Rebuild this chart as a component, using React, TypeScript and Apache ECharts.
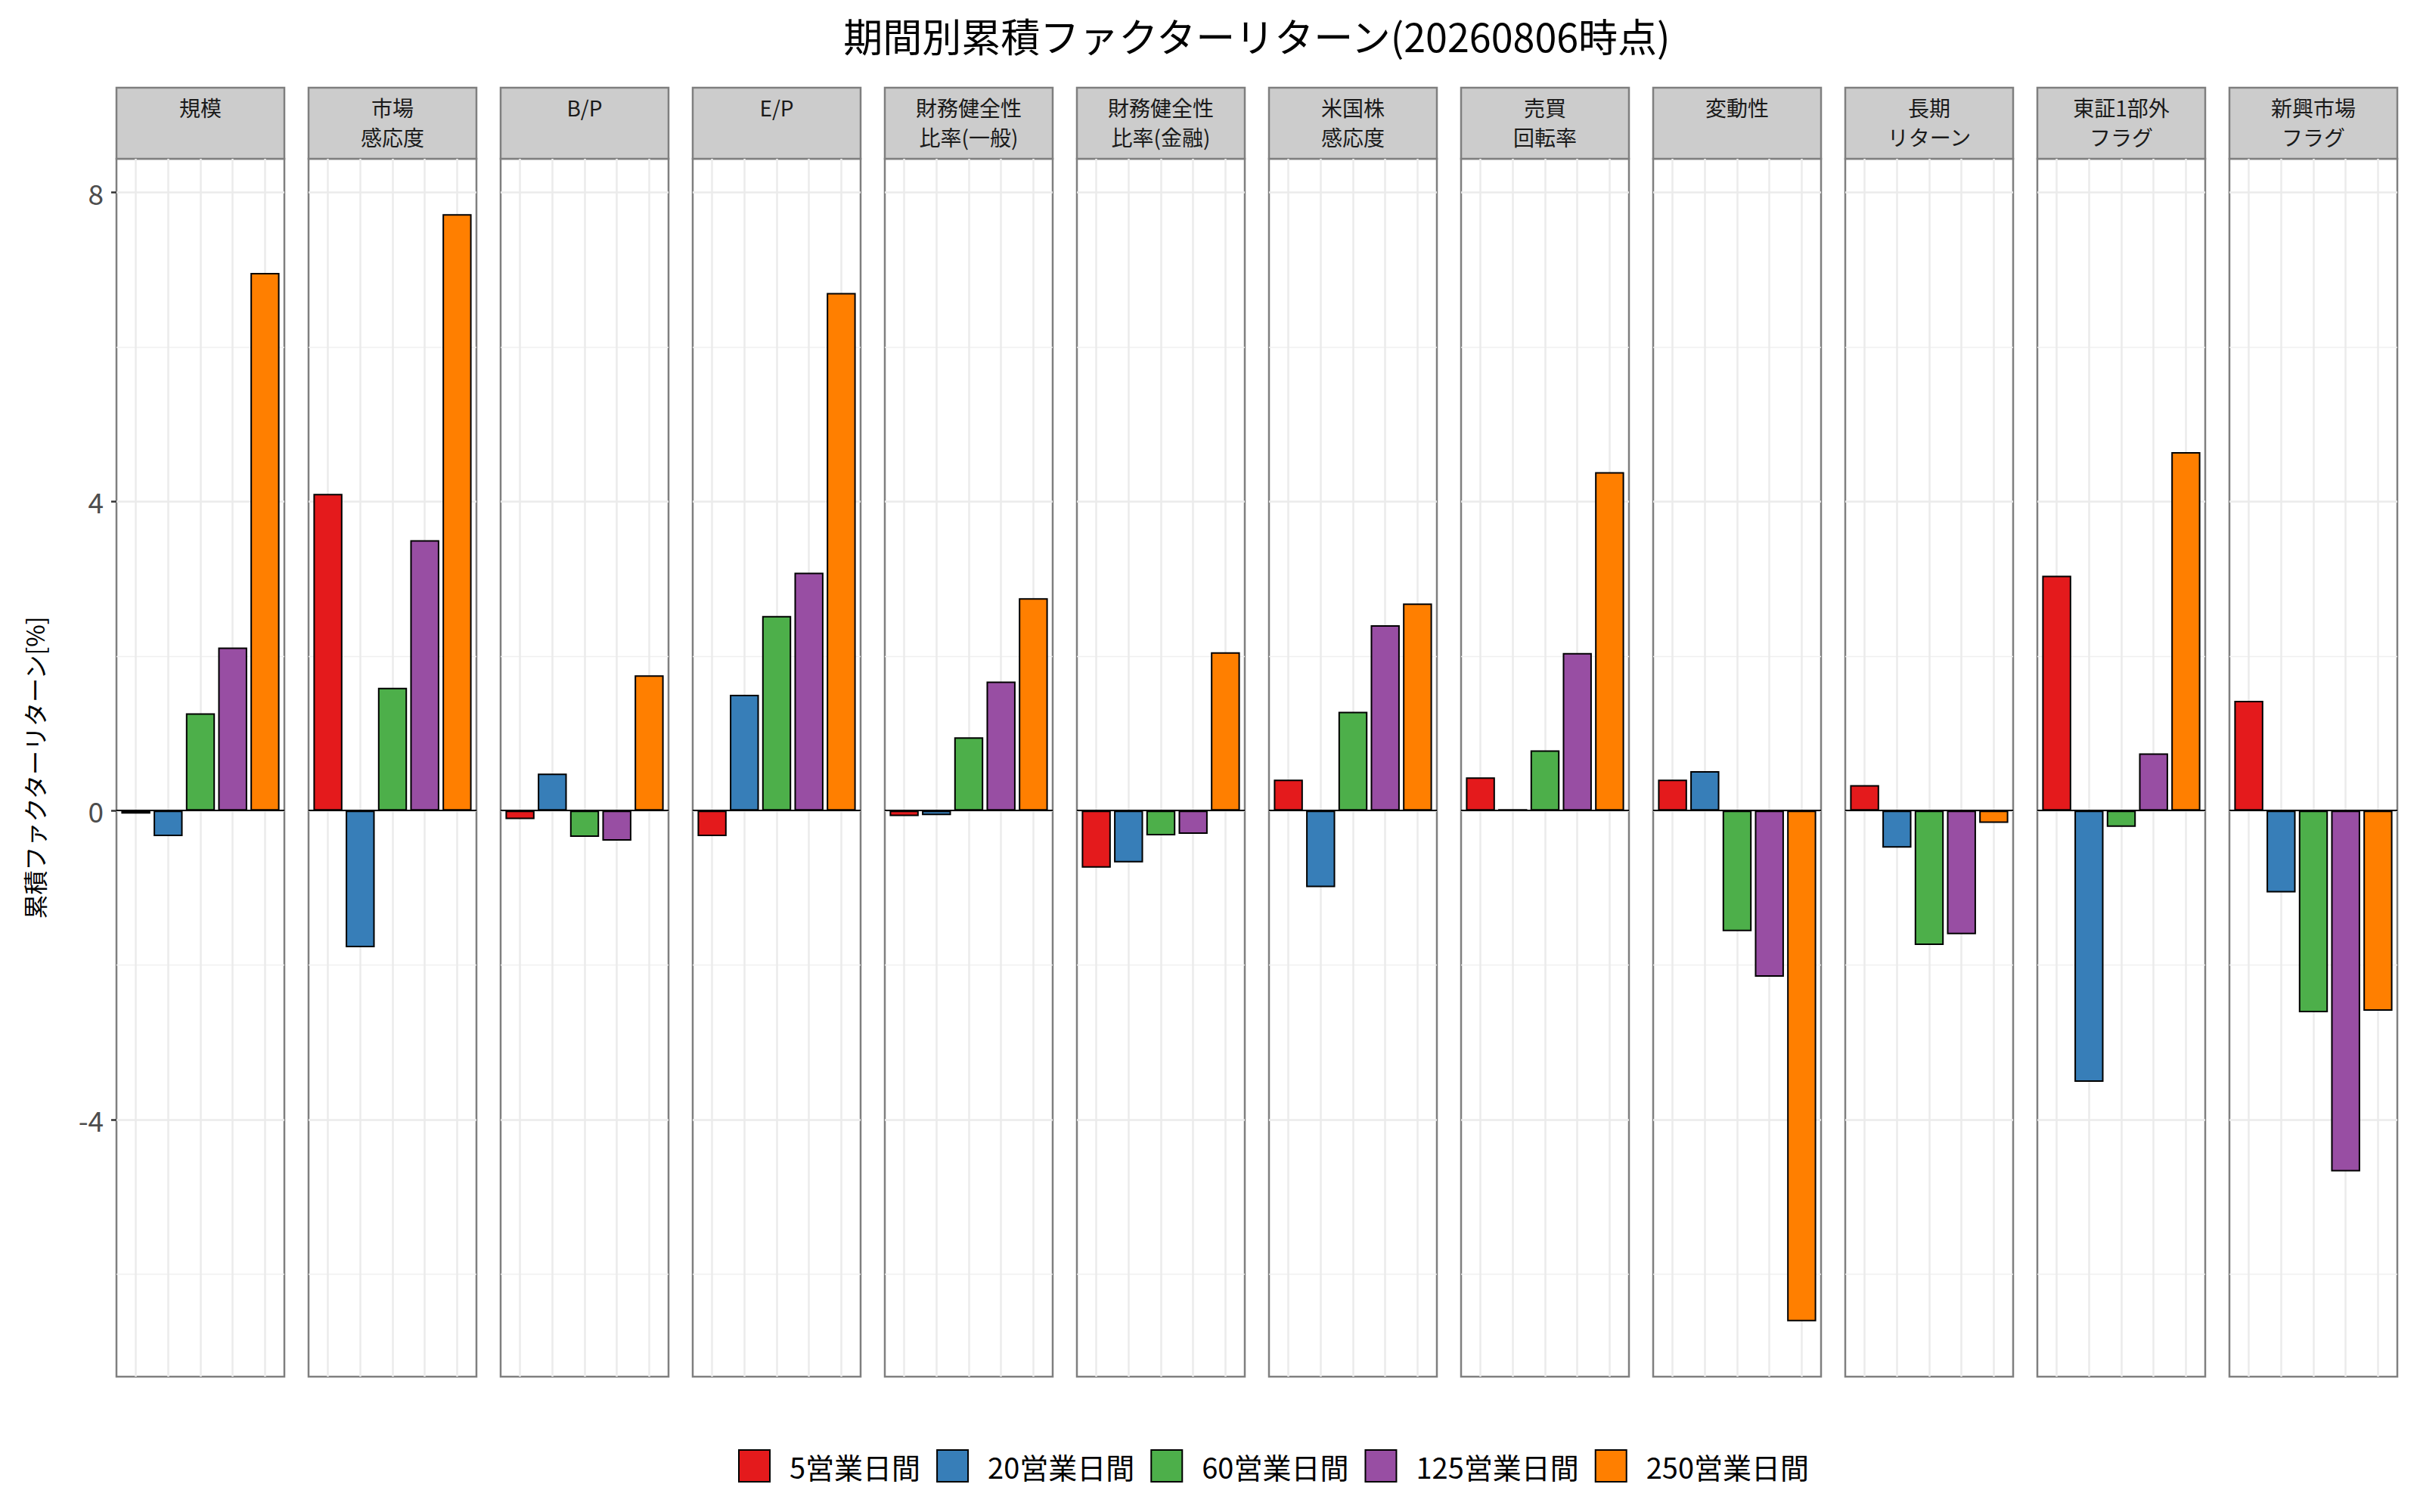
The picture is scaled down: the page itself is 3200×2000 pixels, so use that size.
import * as echarts from "echarts";
import { useEffect, useRef } from "react";

const title = "期間別累積ファクターリターン(20260806時点)";
const yName = "累積ファクターリターン[%]";

const factors = [
  "規模",
  "市場\n感応度",
  "B/P",
  "E/P",
  "財務健全性\n比率(一般)",
  "財務健全性\n比率(金融)",
  "米国株\n感応度",
  "売買\n回転率",
  "変動性",
  "長期\nリターン",
  "東証1部外\nフラグ",
  "新興市場\nフラグ",
];

const periods = ["5営業日間", "20営業日間", "60営業日間", "125営業日間", "250営業日間"];
const colors = ["#E41A1C", "#377EB8", "#4DAF4A", "#984EA3", "#FF7F00"];

// cumulative return per factor, one array per period
const ret5 = [-0.04, 4.1, -0.11, -0.33, -0.07, -0.74, 0.4, 0.43, 0.4, 0.33, 3.04, 1.42];
const ret20 = [-0.33, -1.77, 0.48, 1.5, -0.06, -0.67, -0.99, 0.02, 0.51, -0.48, -3.51, -1.06];
const ret60 = [1.26, 1.59, -0.34, 2.52, 0.95, -0.32, 1.28, 0.78, -1.56, -1.74, -0.21, -2.61];
const ret125 = [2.11, 3.5, -0.39, 3.08, 1.67, -0.3, 2.4, 2.04, -2.15, -1.6, 0.74, -4.67];
const ret250 = [6.96, 7.72, 1.75, 6.7, 2.75, 2.05, 2.68, 4.38, -6.61, -0.16, 4.64, -2.59];
const returns = [ret5, ret20, ret60, ret125, ret250];

const yTicks = [-4, 0, 4, 8];
const yMinorTicks = [-6, -2, 2, 6];

const FONT = '"Noto Sans CJK JP", "Noto Sans", sans-serif';
const PANEL_LEFT = 154;
const PANEL_W = 222;
const PANEL_STEP = 254;
const STRIP_TOP = 116;
const PANEL_TOP = 210;
const PANEL_BOTTOM = 1821;

export default function App() {
  const chartRef = useRef<HTMLDivElement>(null);

  useEffect(() => {
    document.body.style.margin = "0";
    const chart = echarts.init(chartRef.current!, null, { renderer: "svg" });

    const all = returns.flat();
    const lo = Math.min(...all);
    const hi = Math.max(...all);
    const pad = (hi - lo) * 0.05;
    const yMin = lo - pad;
    const yMax = hi + pad;

    const barWidth = (PANEL_W / 5.2) * 0.9;

    const grids: any[] = [];
    const xAxes: any[] = [];
    const yAxes: any[] = [];
    const series: any[] = [];
    const graphics: any[] = [];

    factors.forEach((f, i) => {
      const left = PANEL_LEFT + i * PANEL_STEP;
      grids.push({
        left,
        top: PANEL_TOP,
        width: PANEL_W,
        height: PANEL_BOTTOM - PANEL_TOP,
        show: true,
        backgroundColor: "#FFFFFF",
        borderColor: "#7F7F7F",
        borderWidth: 2.5,
      });
      xAxes.push({
        gridIndex: i,
        type: "value",
        min: 0.4,
        max: 5.6,
        axisLine: { show: false },
        axisTick: { show: false },
        axisLabel: { show: false },
        splitLine: { show: false },
      });
      const first = i === 0;
      yAxes.push({
        gridIndex: i,
        type: "value",
        min: yMin,
        max: yMax,
        axisLine: { show: false, onZero: false },
        splitLine: { show: false },
        axisTick: first
          ? { show: true, customValues: yTicks, length: 7, lineStyle: { color: "#333333", width: 2.5 } }
          : { show: false },
        axisLabel: first
          ? { show: true, customValues: yTicks, fontSize: 37, color: "#4D4D4D", margin: 17, fontFamily: FONT }
          : { show: false },
        name: first ? yName : "",
        nameLocation: "middle",
        nameGap: 93,
        nameTextStyle: { fontSize: 32, color: "#000000", fontFamily: FONT },
      });

      // grid lines
      series.push({
        name: "grid" + i,
        type: "line",
        xAxisIndex: i,
        yAxisIndex: i,
        data: [],
        silent: true,
        markLine: {
          silent: true,
          symbol: ["none", "none"],
          label: { show: false },
          z: 0,
          data: [
            ...yMinorTicks.map((v) => ({ yAxis: v, lineStyle: { color: "#F0F0F0", width: 1.3, type: "solid" } })),
            ...yTicks.map((v) => ({ yAxis: v, lineStyle: { color: "#EBEBEB", width: 2.5, type: "solid" } })),
            ...periods.map((_, k) => ({ xAxis: k + 1, lineStyle: { color: "#EBEBEB", width: 2.5, type: "solid" } })),
          ],
        },
      });

      periods.forEach((p, s) => {
        series.push({
          name: p,
          type: "bar",
          xAxisIndex: i,
          yAxisIndex: i,
          barWidth,
          barGap: "-100%",
          data: [[s + 1, returns[s][i]]],
          itemStyle: { color: colors[s], borderColor: "#000000", borderWidth: 2 },
          z: 3,
        });
      });

      // zero line
      series.push({
        name: "zero" + i,
        type: "line",
        xAxisIndex: i,
        yAxisIndex: i,
        data: [],
        silent: true,
        markLine: {
          silent: true,
          symbol: ["none", "none"],
          label: { show: false },
          z: 6,
          data: [{ yAxis: 0, lineStyle: { color: "#000000", width: 2.2, type: "solid" } }],
        },
      });

      graphics.push({
        type: "rect",
        shape: { x: left, y: STRIP_TOP, width: PANEL_W, height: PANEL_TOP - STRIP_TOP },
        style: { fill: "#CCCCCC", stroke: "#7F7F7F", lineWidth: 2.5 },
      });
      graphics.push({
        type: "text",
        x: left + PANEL_W / 2,
        y: 122,
        style: {
          text: f,
          fontSize: 28,
          fill: "#1A1A1A",
          align: "center",
          verticalAlign: "top",
          lineHeight: 39,
          fontFamily: FONT,
        },
      });
    });

    chart.setOption({
      animation: false,
      backgroundColor: "#FFFFFF",
      title: {
        text: title,
        left: 1662,
        top: 20,
        padding: 0,
        textAlign: "center",
        textStyle: { fontSize: 52, fontWeight: "normal", color: "#000000", fontFamily: FONT },
      },
      legend: {
        data: periods,
        left: 976,
        top: 1917,
        padding: 0,
        icon: "rect",
        itemWidth: 41,
        itemHeight: 42,
        itemGap: 21,
        itemStyle: { borderColor: "#000000", borderWidth: 2 },
        textStyle: { fontSize: 38, color: "#000000", fontFamily: FONT, padding: [0, 0, 0, 21] },
      },
      grid: grids,
      xAxis: xAxes,
      yAxis: yAxes,
      series,
      graphic: graphics,
    });

    return () => chart.dispose();
  }, []);

  return <div ref={chartRef} style={{ width: 3200, height: 2000 }} />;
}
